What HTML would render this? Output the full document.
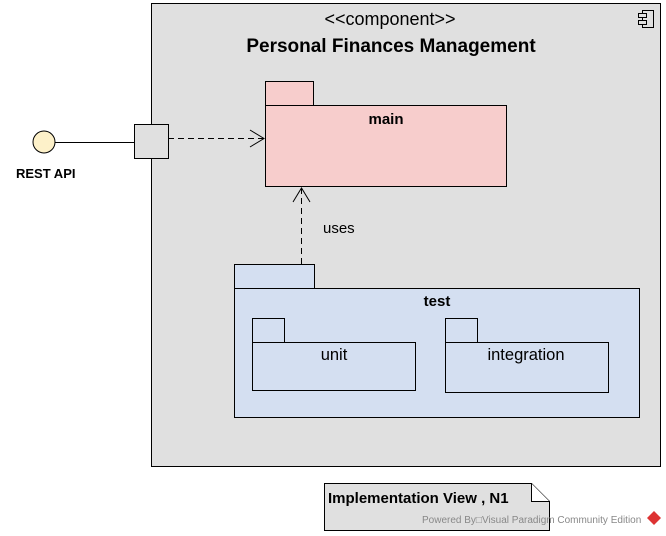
<!DOCTYPE html>
<html><head><style>body{margin:0;background:#fff}svg{display:block}</style></head><body>
<svg width="666" height="536" xmlns="http://www.w3.org/2000/svg" font-family="Liberation Sans, Arial, sans-serif">
<rect x="151.5" y="3.5" width="509" height="463" fill="#e0e0e0" stroke="#000"/>
<g fill="none" stroke="#000"><rect x="642.5" y="10.5" width="11" height="17" fill="#e0e0e0"/><rect x="638.5" y="13.5" width="8" height="4" fill="#e0e0e0"/><rect x="638.5" y="20.5" width="8" height="4" fill="#e0e0e0"/></g>
<text x="390" y="25" font-size="18" text-anchor="middle">&lt;&lt;component&gt;&gt;</text>
<text x="391" y="52" font-size="19" font-weight="bold" text-anchor="middle">Personal Finances Management</text>
<g stroke="#000" fill="#f7cdcc"><rect x="265.5" y="81.5" width="48" height="24"/><rect x="265.5" y="105.5" width="241" height="81"/></g>
<text x="386" y="124" font-size="15" font-weight="bold" text-anchor="middle">main</text>
<g stroke="#000" fill="#d4dff1"><rect x="234.5" y="264.5" width="80" height="24"/><rect x="234.5" y="288.5" width="405" height="129"/>
<rect x="252.5" y="318.5" width="32" height="24"/><rect x="252.5" y="342.5" width="163" height="48"/>
<rect x="445.5" y="318.5" width="32" height="24"/><rect x="445.5" y="342.5" width="163" height="50"/></g>
<text x="437" y="306" font-size="15" font-weight="bold" text-anchor="middle">test</text>
<text x="334" y="360" font-size="16.5" text-anchor="middle">unit</text>
<text x="526" y="360" font-size="16.5" text-anchor="middle">integration</text>
<line x1="55" y1="142.5" x2="134" y2="142.5" stroke="#000"/>
<circle cx="44" cy="142" r="11" fill="#fdf1c9" stroke="#000"/>
<text x="16" y="178" font-size="13" font-weight="bold">REST API</text>
<rect x="134.5" y="124.5" width="34" height="34" fill="#e0e0e0" stroke="#000"/>
<g stroke="#000" fill="none"><line x1="168" y1="138.5" x2="264" y2="138.5" stroke-dasharray="6,4"/><polyline points="250,130 264,138.5 250,147"/>
<line x1="301.5" y1="264" x2="301.5" y2="188" stroke-dasharray="6,4"/><polyline points="293,202 301.5,188 310,202"/></g>
<text x="323" y="233" font-size="15">uses</text>
<path d="M324.5 483.5H531.5L549.5 501.5V530.5H324.5Z" fill="#e0e0e0" stroke="#000"/>
<path d="M531.5 483.5V501.5H549.5" fill="#fff" stroke="#000"/>
<text x="328" y="503" font-size="15" font-weight="bold">Implementation View , N1</text>
<text x="422" y="523" font-size="10" fill="#888">Powered By□Visual Paradigm Community Edition</text>
<path d="M654 511l7 7-7 7-7-7z" fill="#d33"/>
</svg>
</body></html>
